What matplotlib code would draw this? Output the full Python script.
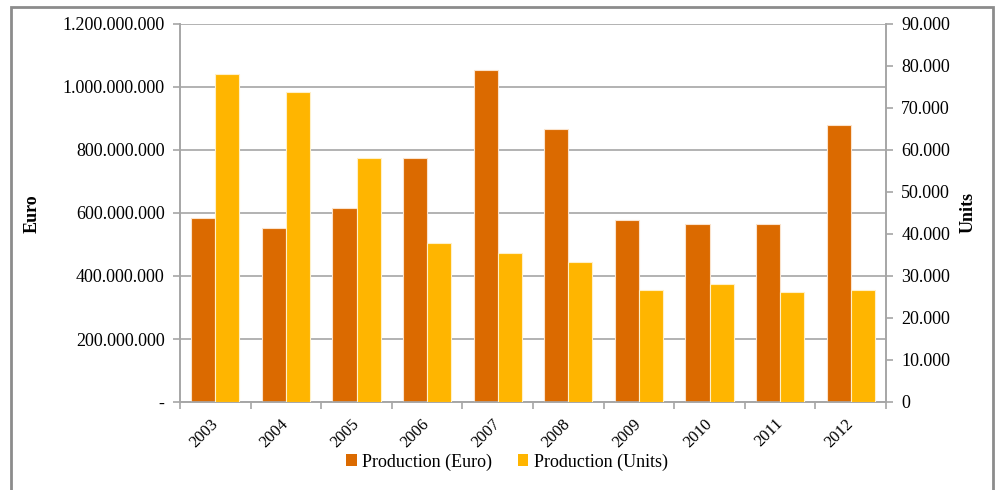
import numpy as np
import matplotlib
matplotlib.use('Agg')
import matplotlib.pyplot as plt
from matplotlib.patches import Rectangle, Patch
from matplotlib.ticker import FuncFormatter, MultipleLocator

years = ['2003', '2004', '2005', '2006', '2007', '2008', '2009', '2010', '2011', '2012']
production_euro = [585e6, 553e6, 615e6, 774e6, 1054e6, 867e6, 578e6, 566e6, 566e6, 880e6]
production_units = [78100, 73900, 58000, 37900, 35400, 33300, 26700, 28100, 26300, 26700]

euro_color = '#DB6A00'
units_color = '#FFB500'
grid_color = '#A6A6A6'

plt.rcParams['font.family'] = ['Liberation Serif', 'DejaVu Serif']


def dotted(v, zero):
    if v == 0:
        return zero
    return '{:,.0f}'.format(v).replace(',', '.')


fig = plt.figure(figsize=(9.98, 4.9), dpi=100)
ax = fig.add_axes([180 / 998, 1 - 402 / 490, (886 - 180) / 998, (402 - 24) / 490])
ax2 = ax.twinx()

x = np.arange(len(years))
w = 0.34
ax.bar(x - w / 2, production_euro, w, color=euro_color, edgecolor='#FBE3CC', linewidth=0.8, zorder=3)
ax2.bar(x + w / 2, production_units, w, color=units_color, edgecolor='#FFF0C8', linewidth=0.8, zorder=3)

ax.set_xlim(-0.5, len(years) - 0.5)
ax.set_ylim(0, 1.2e9)
ax2.set_ylim(0, 90000)
ax.yaxis.set_major_locator(MultipleLocator(2e8))
ax2.yaxis.set_major_locator(MultipleLocator(10000))
ax.yaxis.set_major_formatter(FuncFormatter(lambda v, p: dotted(v, '-')))
ax2.yaxis.set_major_formatter(FuncFormatter(lambda v, p: dotted(v, '0')))

ax.grid(axis='y', color=grid_color, linewidth=1.2, zorder=0)
ax.set_axisbelow(True)

# category boundaries get the tick marks, labels sit in the middle
ax.set_xticks(np.arange(-0.5, len(years)), minor=False)
ax.set_xticklabels([])
ax.set_xticks(x, minor=True)
ax.set_xticklabels(years, minor=True, rotation=45, ha='right', va='center',
                   rotation_mode='anchor', fontsize=12)
ax.tick_params(axis='x', which='minor', length=0, pad=14)
ax.tick_params(axis='x', which='major', length=5, color=grid_color, width=1.2)
ax.tick_params(axis='y', length=5, color=grid_color, width=1.2, labelsize=13, pad=6)
ax2.tick_params(axis='y', length=5, color=grid_color, width=1.2, labelsize=13, pad=6)

for a in (ax, ax2):
    a.spines['top'].set_visible(False)
    for s in ('left', 'right', 'bottom'):
        a.spines[s].set_color(grid_color)
        a.spines[s].set_linewidth(1.2)

fig.text(32 / 998, 1 - 214 / 490, 'Euro', rotation=90, ha='center', va='center',
         fontsize=13, fontweight='bold')
fig.text(968 / 998, 1 - 212 / 490, 'Units', rotation=90, ha='center', va='center',
         fontsize=13, fontweight='bold')

handles = [Patch(facecolor=euro_color, label='Production (Euro)'),
           Patch(facecolor=units_color, label='Production (Units)')]
fig.legend(handles=handles, loc='center', bbox_to_anchor=(507 / 998, 1 - 462 / 490),
           ncol=2, frameon=False, fontsize=13, handlelength=0.6, handleheight=0.6,
           handletextpad=0.3, columnspacing=1.4)

fig.patches.append(Rectangle((11 / 998, -0.05), (993 - 11) / 998, 1.05 - 7 / 490,
                             transform=fig.transFigure, fill=False,
                             edgecolor='#8C8C8C', linewidth=2))

fig.savefig('out.png', dpi=100)
